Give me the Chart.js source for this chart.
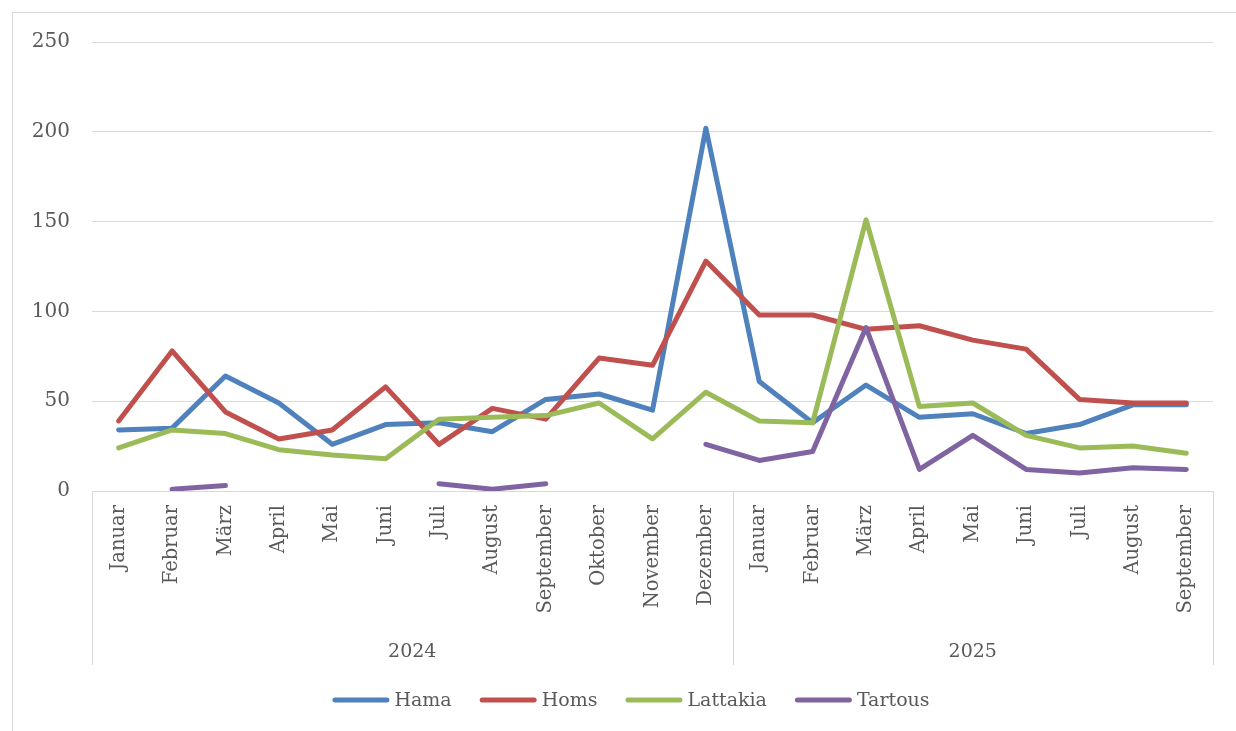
<!DOCTYPE html>
<html>
<head>
<meta charset="utf-8">
<script src="https://cdn.jsdelivr.net/npm/chart.js@4.4.1/dist/chart.umd.min.js"></script>
<style>
  html, body { margin: 0; padding: 0; background: #ffffff; }
  canvas { display: block; }
</style>
</head>
<body>
<canvas id="chart" width="1236" height="731"></canvas>
<script>
// Month categories, grouped by year
const months = ['Januar', 'Februar', 'März', 'April', 'Mai', 'Juni', 'Juli', 'August', 'September', 'Oktober', 'November', 'Dezember',
                'Januar', 'Februar', 'März', 'April', 'Mai', 'Juni', 'Juli', 'August', 'September'];
const years = ['2024', '2025'];
const monthsPerYear = [12, 9];

// Monthly values per governorate
const hama     = [34, 35, 64, 49, 26, 37, 38, 33, 51, 54, 45, 202, 61, 38, 59, 41, 43, 32, 37, 48, 48];
const homs     = [39, 78, 44, 29, 34, 58, 26, 46, 40, 74, 70, 128, 98, 98, 90, 92, 84, 79, 51, 49, 49];
const lattakia = [24, 34, 32, 23, 20, 18, 40, 41, 42, 49, 29, 55, 39, 38, 151, 47, 49, 31, 24, 25, 21];
const tartous  = [null, 1, 3, null, null, null, 4, 1, 4, null, null, 26, 17, 22, 91, 12, 31, 12, 10, 13, 12];

const seriesNames = ['Hama', 'Homs', 'Lattakia', 'Tartous'];
const seriesColors = ['#4F81BD', '#C0504D', '#9BBB59', '#8064A2'];
const seriesData = [hama, homs, lattakia, tartous];

const yMin = 0, yMax = 250, yStep = 50;

const FONT = "'DejaVu Serif', serif";
const TEXT = '#595959';
const GRID = '#D9D9D9';

// Outer chart frame
const framePlugin = {
  id: 'frame',
  beforeDraw(chart) {
    const ctx = chart.ctx;
    ctx.save();
    ctx.strokeStyle = GRID;
    ctx.lineWidth = 1;
    ctx.strokeRect(12.5, 12.5, 1238, 760);
    ctx.restore();
  }
};

// Second category level: year groups with separator lines
const yearAxisPlugin = {
  id: 'yearAxis',
  afterDraw(chart) {
    const ctx = chart.ctx;
    const x = chart.scales.x;
    const area = chart.chartArea;
    const top = area.bottom;
    const bottom = area.bottom + 174;
    const bounds = [area.left];
    let start = 0;
    monthsPerYear.forEach((n) => {
      const end = start + n;
      if (end < months.length) {
        bounds.push((x.getPixelForValue(end - 1) + x.getPixelForValue(end)) / 2);
      } else {
        bounds.push(area.right);
      }
      start = end;
    });
    ctx.save();
    ctx.strokeStyle = GRID;
    ctx.lineWidth = 1;
    bounds.forEach((b) => {
      const px = Math.round(b) + 0.5;
      ctx.beginPath();
      ctx.moveTo(px, top);
      ctx.lineTo(px, bottom);
      ctx.stroke();
    });
    ctx.fillStyle = TEXT;
    ctx.font = '19px ' + FONT;
    ctx.textAlign = 'center';
    ctx.textBaseline = 'middle';
    years.forEach((label, i) => {
      ctx.fillText(label, (bounds[i] + bounds[i + 1]) / 2, area.bottom + 161);
    });
    ctx.restore();
  }
};

// Legend row: line sample followed by series name
const legendPlugin = {
  id: 'lineLegend',
  afterDraw(chart) {
    const ctx = chart.ctx;
    const sample = 57, gap = 5, spacing = 28, y = 700;
    ctx.save();
    ctx.font = '19px ' + FONT;
    const widths = seriesNames.map((n) => ctx.measureText(n).width);
    let total = 0;
    widths.forEach((w, i) => { total += sample + gap + w + (i < widths.length - 1 ? spacing : 0); });
    let cx = 12 + 1238 / 2 - total / 2;
    seriesNames.forEach((name, i) => {
      ctx.strokeStyle = seriesColors[i];
      ctx.lineWidth = 5;
      ctx.lineCap = 'round';
      ctx.beginPath();
      ctx.moveTo(cx + 2.5, y);
      ctx.lineTo(cx + sample - 2.5, y);
      ctx.stroke();
      ctx.fillStyle = TEXT;
      ctx.textAlign = 'left';
      ctx.textBaseline = 'middle';
      ctx.fillText(name, cx + sample + gap, y + 1);
      cx += sample + gap + widths[i] + spacing;
    });
    ctx.restore();
  }
};

new Chart(document.getElementById('chart'), {
  type: 'line',
  data: {
    labels: months,
    datasets: seriesNames.map((name, i) => ({
      label: name,
      data: seriesData[i],
      borderColor: seriesColors[i],
      backgroundColor: seriesColors[i],
      borderWidth: 5,
      borderCapStyle: 'round',
      borderJoinStyle: 'round',
      pointRadius: 0,
      pointHoverRadius: 0,
      tension: 0,
      spanGaps: false,
      fill: false,
      order: seriesNames.length - i
    }))
  },
  options: {
    responsive: false,
    devicePixelRatio: 1,
    animation: false,
    events: [],
    layout: { padding: { left: 20, right: 23, top: 42, bottom: 66 } },
    plugins: {
      legend: { display: false },
      tooltip: { enabled: false },
      title: { display: false }
    },
    scales: {
      x: {
        type: 'category',
        offset: true,
        grid: { display: false, drawTicks: false },
        border: { display: true, color: GRID, width: 1 },
        ticks: {
          autoSkip: false,
          minRotation: 90,
          maxRotation: 90,
          padding: 14,
          labelOffset: 0,
          color: TEXT,
          font: { family: FONT, size: 19.5 }
        },
        afterFit(scale) { scale.height = 174; }
      },
      y: {
        min: yMin,
        max: yMax,
        ticks: {
          stepSize: yStep,
          padding: 22,
          color: TEXT,
          font: { family: FONT, size: 20 }
        },
        grid: { color: GRID, lineWidth: 1, drawTicks: false },
        border: { display: false },
        afterFit(scale) { scale.width = 72; }
      }
    }
  },
  plugins: [framePlugin, yearAxisPlugin, legendPlugin]
});
</script>
</body>
</html>
